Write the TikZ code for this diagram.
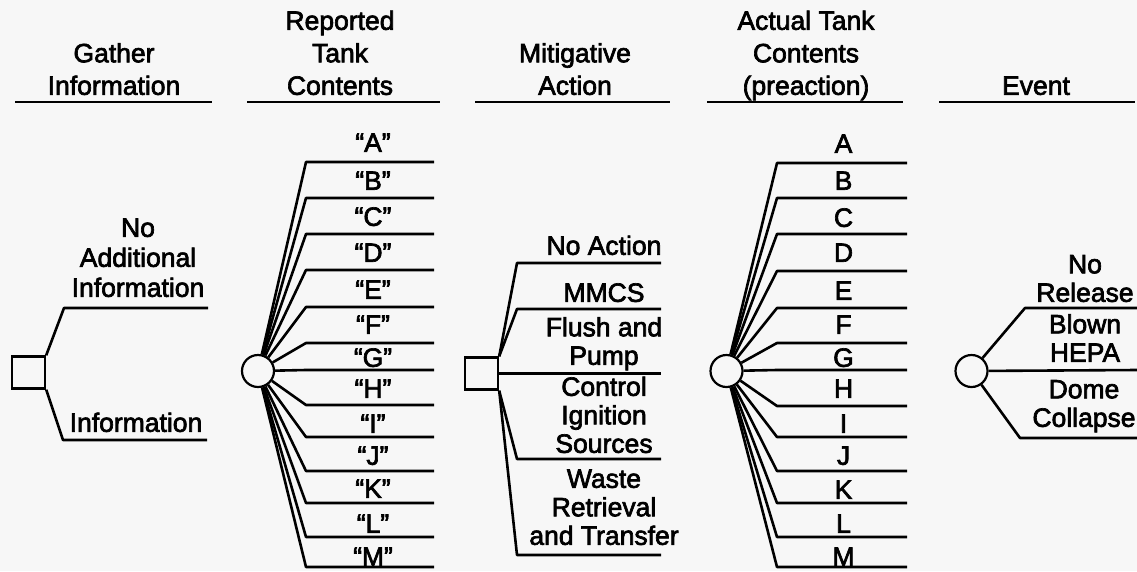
\documentclass[tikz,border=0pt]{standalone}
\usepackage{fontspec}
\setmainfont{Liberation Sans}[FakeBold=2.5]
\definecolor{bg}{RGB}{247,247,247}
\begin{document}
\begin{tikzpicture}[x=1pt,y=-1pt,
  branch/.style={line width=2.6pt,line join=round},
  rule/.style={line width=2.8pt},
  chance/.style={circle,draw,line width=2.2pt,minimum size=32pt,inner sep=0pt,fill=bg},
  decision/.style={rectangle,draw,line width=2.4pt,minimum width=33pt,minimum height=32pt,inner sep=0pt,fill=bg},
  head/.style={font=\fontsize{26.5}{32.5}\selectfont,align=center,anchor=south,text depth=0pt,inner sep=0pt},
  lbl/.style={font=\fontsize{26.5}{28.5}\selectfont,align=center,anchor=south,text depth=0pt,inner sep=0pt},
  glbl/.style={lbl,font=\fontsize{26.5}{30}\selectfont},
]
\fill[bg] (0,0) rectangle (1137,571);
\useasboundingbox (0,0) rectangle (1137,571);

% column headings
\node[head] (h1) at (114,95) {Gather\\Information};
\node[head] (h2) at (340,95) {Reported\\Tank\\Contents};
\node[head] (h3) at (575,95) {Mitigative\\Action};
\node[head] (h4) at (806,95) {Actual Tank\\Contents\\(preaction)};
\node[head] (h5) at (1036,95) {Event};
\draw[rule] (15,102) -- (212,102);
\draw[rule] (247,102) -- (440,102);
\draw[rule] (475,102) -- (670,102);
\draw[rule] (707,102) -- (903,102);
\draw[rule] (939,102) -- (1135,102);

% gather information decision
\node[decision] (g) at (28.5,372.5) {};
\coordinate (gN1) at (64,308);  \coordinate (gN2) at (208,308);
\coordinate (gI1) at (63,440);  \coordinate (gI2) at (207,440);
\draw[branch] (g.north east) -- (gN1) -- (gN2);
\draw[branch] (g.south east) -- (gI1) -- (gI2);
\node[glbl] (gNl) at (138,297) {No\\Additional\\Information};
\node[glbl] (gIl) at (136,432) {Information};

% reported tank contents
\node[chance] (r) at (258,371) {};
\foreach \n/\ly/\by in {A/162/152,B/198/190,C/234/226,D/270/262,E/307/299,F/343/334,G/370/367,H/405/398,I/437/433,J/471/465,K/503/498,L/537/533,M/567/566}{
  \coordinate (r\n1) at (306,\ly);
  \coordinate (r\n2) at (434,\ly);
  \draw[branch] (r) -- (r\n1) -- (r\n2);
  \node[lbl] (rl\n) at (373,\by) {“\n”};
}

% mitigative action decision
\node[decision] (m) at (481.5,373.5) {};
\coordinate (mA1) at (517,263); \coordinate (mA2) at (661,263);
\coordinate (mB1) at (517,309); \coordinate (mB2) at (661,309);
\coordinate (mC2) at (661,373.5);
\coordinate (mD1) at (517,459); \coordinate (mD2) at (661,459);
\coordinate (mE1) at (517,555); \coordinate (mE2) at (661,555);
\draw[branch] (m.north east) -- (mA1) -- (mA2);
\draw[branch] (m.north east) -- (mB1) -- (mB2);
\draw[branch] (m.east) -- (mC2);
\draw[branch] (m.south east) -- (mD1) -- (mD2);
\draw[branch] (m.south east) -- (mE1) -- (mE2);
\node[lbl] (mAl) at (604,255) {No Action};
\node[lbl] (mBl) at (604,302) {MMCS};
\node[lbl] (mCl) at (604,365) {Flush and\\Pump};
\node[lbl] (mDl) at (604,453) {Control\\Ignition\\Sources};
\node[lbl] (mEl) at (604,545) {Waste\\Retrieval\\and Transfer};

% actual tank contents
\node[chance] (a) at (726.5,371) {};
\foreach \n/\ly/\by in {A/163/153,B/198/190,C/234/227,D/271/262,E/308/300,F/343/334,G/370/367,H/406/398,I/437/433,J/471/465,K/503/499,L/537/533,M/567/566}{
  \coordinate (a\n1) at (777,\ly);
  \coordinate (a\n2) at (907,\ly);
  \draw[branch] (a) -- (a\n1) -- (a\n2);
  \node[lbl] (al\n) at (843.5,\by) {\n};
}

% event
\node[chance] (e) at (971.5,371) {};
\coordinate (eA1) at (1025,308); \coordinate (eA2) at (1137,308);
\coordinate (eB2) at (1137,370);
\coordinate (eC1) at (1020,438); \coordinate (eC2) at (1137,438);
\draw[branch] (e) -- (eA1) -- (eA2);
\draw[branch] (e) -- (eB2);
\draw[branch] (e) -- (eC1) -- (eC2);
\node[lbl] (eAl) at (1085,302) {No\\Release};
\node[lbl] (eBl) at (1085,362) {Blown\\HEPA};
\node[lbl] (eCl) at (1084,427) {Dome\\Collapse};
\end{tikzpicture}
\end{document}
